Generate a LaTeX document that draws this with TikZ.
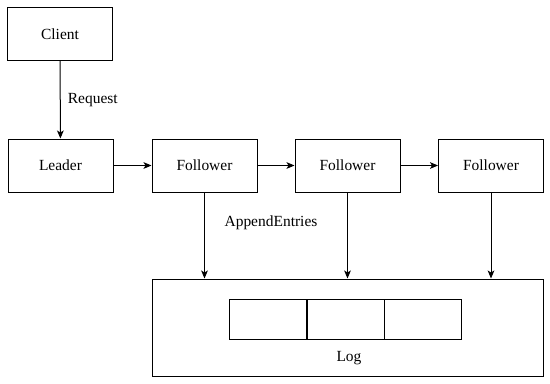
\documentclass[tikz,border=0pt]{standalone}
\usepackage{fontspec}
\setmainfont{Liberation Serif}
\usetikzlibrary{arrows.meta}
\begin{document}
\begin{tikzpicture}[x=0.75pt, y=-0.75pt, line width=0.75pt,
  box/.style={draw, minimum width=78.75pt, minimum height=39.75pt, inner sep=0pt},
  cell/.style={draw, minimum width=57.75pt, minimum height=30pt, inner sep=0pt},
  flow/.style={-{Stealth[length=6pt, width=5pt, inset=1.5pt]}},
  every node/.style={font=\fontsize{11.6}{14}\selectfont}]
  % Frame
  \useasboundingbox (0,0) rectangle (550,383);
  % Nodes
  \node[box] (client) at (60,34) {Client};
  \node[box] (leader) at (60.5,165.5) {Leader};
  \node[box] (f1) at (204.5,165.5) {Follower};
  \node[box] (f2) at (347.5,165.5) {Follower};
  \node[box] (f3) at (491,165.5) {Follower};
  % Log store
  \node[draw, minimum width=293.25pt, minimum height=72.75pt, inner sep=0pt] (log) at (347.5,327.5) {};
  \node[cell] (c1) at (268,319) {};
  \node[cell] (c2) at (345.5,319) {};
  \node[cell] (c3) at (423,319) {};
  \node (loglab) at (349,358) {Log};
  % Connectors
  \draw[flow] (client) -- node[right, xshift=2pt] {Request} (leader);
  \draw[flow] (leader) -- (f1);
  \draw[flow] (f1) -- (f2);
  \draw[flow] (f2) -- (f3);
  \draw[flow] (f1.south) -- (f1.south |- log.north);
  \draw[flow] (f2.south) -- (f2.south |- log.north);
  \draw[flow] (f3.south) -- (f3.south |- log.north);
  \node (append) at (271,223) {AppendEntries};
\end{tikzpicture}
\end{document}
